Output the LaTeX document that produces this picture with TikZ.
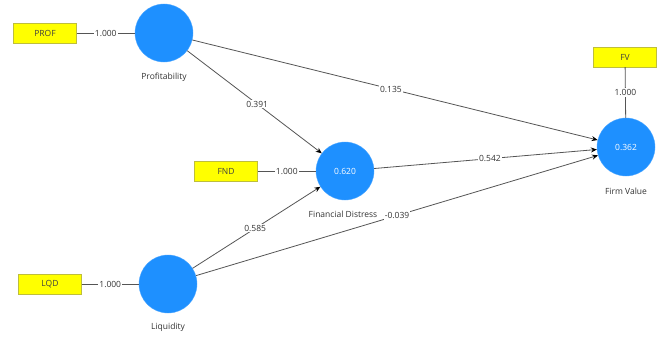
\documentclass[tikz,border=0pt]{standalone}
\usepackage{fontspec}
\setmainfont{Open Sans}
\usepackage{tikz}
\usetikzlibrary{arrows.meta}
\definecolor{latent}{RGB}{30,144,255}
\definecolor{indic}{RGB}{255,255,0}
\definecolor{indicline}{RGB}{190,190,60}
\definecolor{pathgray}{RGB}{85,85,85}

\begin{document}
\begin{tikzpicture}[x=1pt,y=-1pt,
    construct/.style={circle,fill=latent,draw=latent!80!white,minimum size=58pt,inner sep=0pt,text=white,font=\fontsize{8.5}{10}\selectfont},
    indicator/.style={rectangle,fill=indic,draw=indicline,minimum width=63pt,minimum height=20pt,inner sep=0pt,font=\fontsize{8.5}{10}\selectfont,text=black!75},
    caption/.style={font=\fontsize{8.5}{10}\selectfont,text=black!80},
    weight/.style={fill=white,inner sep=1pt,font=\fontsize{8.5}{10}\selectfont,text=black!80},
    outer/.style={draw=pathgray,line width=0.8pt},
    inner/.style={draw=pathgray,line width=0.8pt,-{Stealth[length=6pt,width=5pt,black]}}]
\useasboundingbox[fill=white] (0,0) rectangle (660,337);

% latent variables
\node[construct] (prof) at (164,33) {};
\node[construct] (fd) at (345,171) {0.620};
\node[construct] (liq) at (168,284) {};
\node[construct] (fv) at (626,147) {0.362};

\node[caption] at (164,77) {Profitability};
\node[caption] at (343,214) {Financial Distress};
\node[caption] at (168,327) {Liquidity};
\node[caption] at (626,191) {Firm Value};

% indicators
\node[indicator] (profbox) at (45,33) {PROF};
\node[indicator] (fndbox) at (226,171) {FND};
\node[indicator] (lqdbox) at (50,284) {LQD};
\node[indicator] (fvbox) at (625,57) {FV};

% outer loadings
\draw[outer] (profbox) -- node[weight] {1.000} (prof);
\draw[outer] (fndbox) -- node[weight] {1.000} (fd);
\draw[outer] (lqdbox) -- node[weight] {1.000} (liq);
\draw[outer] (fvbox) -- node[weight] {1.000} (fv);

% path coefficients
\draw[inner] (prof) -- node[weight,pos=0.52] {0.391} (fd);
\draw[inner] (prof) -- node[weight,pos=0.49] {0.135} (fv);
\draw[inner] (fd) -- node[weight,pos=0.52] {0.542} (fv);
\draw[inner] (liq) -- node[weight,pos=0.49] {0.585} (fd);
\draw[inner] (liq) -- node[weight,pos=0.5] {-0.039} (fv);

\end{tikzpicture}
\end{document}
